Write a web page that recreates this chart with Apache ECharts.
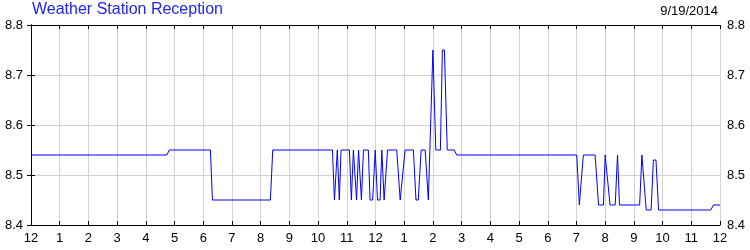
<!DOCTYPE html>
<html>
<head>
<meta charset="utf-8">
<script src="https://cdn.jsdelivr.net/npm/echarts@6/dist/echarts.min.js"></script>
<style>
html,body{margin:0;padding:0;background:#fff;}
#chart{width:750px;height:250px;}
</style>
</head>
<body>
<div id="chart"></div>
<script>
// Time of day in hours (0 = midnight, 24 = next midnight)
var times = [0, 4.73, 4.82, 6.25, 6.32, 8.34, 8.42,
  10.50, 10.57, 10.67, 10.74, 10.80,
  11.09, 11.16, 11.23, 11.34, 11.41, 11.51, 11.58, 11.75, 11.81, 11.90, 11.99,
  12.07, 12.16, 12.22, 12.30, 12.42, 12.74, 12.86,
  13.03, 13.32, 13.41, 13.49, 13.59, 13.73, 13.84,
  14.00, 14.10, 14.26, 14.33, 14.40, 14.50, 14.74, 14.83,
  19.01, 19.10, 19.16, 19.24, 19.65, 19.77, 19.94,
  20.00, 20.06, 20.17, 20.35, 20.43, 20.50,
  21.20, 21.28, 21.33, 21.43, 21.60, 21.68, 21.77, 21.86,
  23.68, 23.77, 24];
var receptionValues = [8.54, 8.54, 8.55, 8.55, 8.45, 8.45, 8.55,
  8.55, 8.45, 8.55, 8.45, 8.55,
  8.55, 8.45, 8.55, 8.45, 8.55, 8.45, 8.55, 8.55, 8.45, 8.45, 8.55,
  8.45, 8.45, 8.55, 8.45, 8.55, 8.55, 8.45,
  8.55, 8.55, 8.45, 8.45, 8.55, 8.55, 8.45,
  8.75, 8.55, 8.55, 8.75, 8.75, 8.55, 8.55, 8.54,
  8.54, 8.44, 8.44, 8.54, 8.54, 8.44, 8.44,
  8.54, 8.54, 8.44, 8.44, 8.54, 8.44,
  8.44, 8.54, 8.54, 8.43, 8.43, 8.53, 8.53, 8.43,
  8.43, 8.44, 8.44];
var xTickLabels = ['12','1','2','3','4','5','6','7','8','9','10','11','12','1','2','3','4','5','6','7','8','9','10','11','12'];
var yTickLabels = ['8.4','8.5','8.6','8.7','8.8'];
var titleText = 'Weather Station Reception';
var dateText = '9/19/2014';

var FONT = "'Liberation Sans', Arial, sans-serif";
var data = times.map(function (t, i) { return [t, receptionValues[i]]; });

var chart = echarts.init(document.getElementById('chart'), null, {renderer: 'canvas'});
var axisLineStyle = {show: true, lineStyle: {color: '#000', width: 1}};
var tickStyle = {show: true, inside: true, length: 4, lineStyle: {color: '#000', width: 1}};
var yMin = 8.4, yMax = 8.8;
chart.setOption({
  animation: false,
  backgroundColor: '#fff',
  title: [
    {text: titleText, left: 32, top: 2, padding: 0,
     textStyle: {color: '#2222ff', fontFamily: FONT, fontSize: 16, fontWeight: 'normal'}},
    {text: dateText, right: 32, top: 5, padding: 0,
     textStyle: {color: '#000', fontFamily: FONT, fontSize: 13, fontWeight: 'normal'}}
  ],
  grid: {left: 31, right: 30, top: 25, bottom: 25, outerBoundsMode: 'none', containLabel: false},
  xAxis: [
    {type: 'value', position: 'bottom', min: 0, max: 24, interval: 1,
     axisLine: axisLineStyle, axisTick: tickStyle,
     axisLabel: {show: true, color: '#000', fontFamily: FONT, fontSize: 13, margin: 7,
       formatter: function (v) { return xTickLabels[Math.round(v)]; }},
     splitLine: {show: true, lineStyle: {color: '#d3d3d3', width: 1}}},
    {type: 'value', position: 'top', min: 0, max: 24, interval: 1,
     axisLine: axisLineStyle, axisTick: tickStyle,
     axisLabel: {show: false}, splitLine: {show: false}}
  ],
  yAxis: [
    {type: 'value', position: 'left', min: yMin, max: yMax, interval: 0.1,
     axisLine: axisLineStyle, axisTick: tickStyle,
     axisLabel: {show: true, color: '#000', fontFamily: FONT, fontSize: 13, margin: 8,
       formatter: function (v) { return yTickLabels[Math.round((v - yMin) * 10)]; }},
     splitLine: {show: true, lineStyle: {color: '#d3d3d3', width: 1}}},
    {type: 'value', position: 'right', min: yMin, max: yMax, interval: 0.1,
     axisLine: axisLineStyle, axisTick: tickStyle,
     axisLabel: {show: true, color: '#000', fontFamily: FONT, fontSize: 13, margin: 7,
       formatter: function (v) { return yTickLabels[Math.round((v - yMin) * 10)]; }},
     splitLine: {show: false}}
  ],
  series: [{
    type: 'line', xAxisIndex: 0, yAxisIndex: 0,
    data: data, showSymbol: false, symbol: 'none',
    lineStyle: {color: '#0000ff', width: 1},
    emphasis: {disabled: true}
  }]
});
</script>
</body>
</html>
